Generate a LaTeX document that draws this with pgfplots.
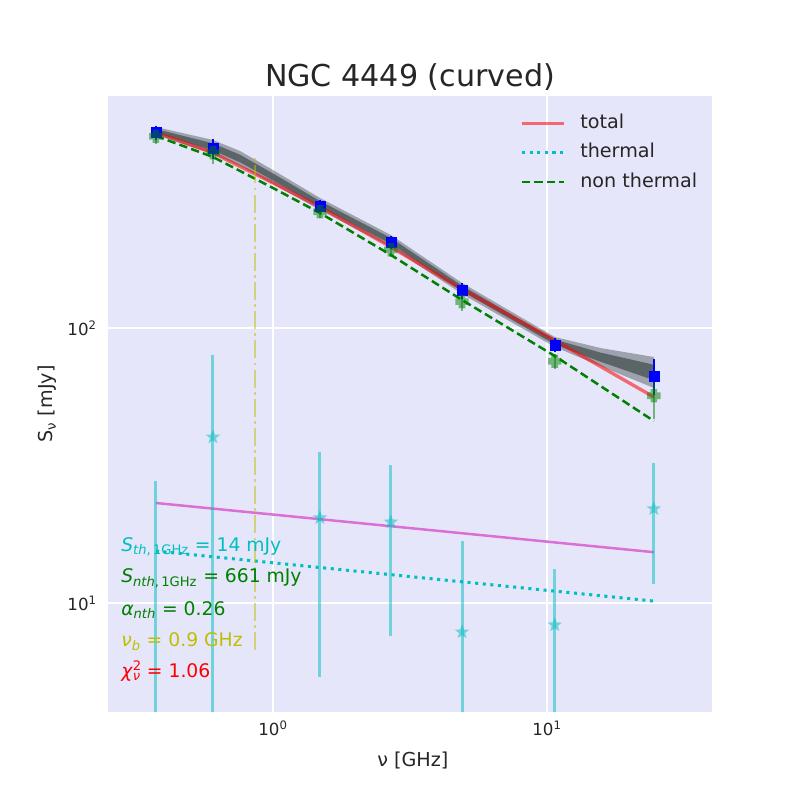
\documentclass[border=0pt]{standalone}
\usepackage{fontspec}
\setmainfont{DejaVu Sans}
\usepackage{pgfplots}
\usepackage{pgfplotstable}
\pgfplotsset{compat=1.18}
\definecolor{lav}{RGB}{230,230,250}
\definecolor{mplc}{RGB}{0,191,191}
\definecolor{mplg}{RGB}{0,128,0}
\definecolor{mply}{RGB}{191,191,0}
\definecolor{orch}{RGB}{218,112,214}
\definecolor{txt}{RGB}{38,38,38}
\definecolor{band}{RGB}{70,80,80}

\pgfdeclareplotmark{fstar}{%
  \pgfpathmoveto{\pgfpointpolar{90}{\pgfplotmarksize}}%
  \pgfpathlineto{\pgfpointpolar{126}{0.42\pgfplotmarksize}}%
  \pgfpathlineto{\pgfpointpolar{162}{\pgfplotmarksize}}%
  \pgfpathlineto{\pgfpointpolar{198}{0.42\pgfplotmarksize}}%
  \pgfpathlineto{\pgfpointpolar{234}{\pgfplotmarksize}}%
  \pgfpathlineto{\pgfpointpolar{270}{0.42\pgfplotmarksize}}%
  \pgfpathlineto{\pgfpointpolar{306}{\pgfplotmarksize}}%
  \pgfpathlineto{\pgfpointpolar{342}{0.42\pgfplotmarksize}}%
  \pgfpathlineto{\pgfpointpolar{18}{\pgfplotmarksize}}%
  \pgfpathlineto{\pgfpointpolar{54}{0.42\pgfplotmarksize}}%
  \pgfpathclose
  \pgfusepathqfill}
\pgfdeclareplotmark{fplus}{%
  \pgfpathmoveto{\pgfpoint{-0.5\pgfplotmarksize}{\pgfplotmarksize}}%
  \pgfpathlineto{\pgfpoint{0.5\pgfplotmarksize}{\pgfplotmarksize}}%
  \pgfpathlineto{\pgfpoint{0.5\pgfplotmarksize}{0.5\pgfplotmarksize}}%
  \pgfpathlineto{\pgfpoint{\pgfplotmarksize}{0.5\pgfplotmarksize}}%
  \pgfpathlineto{\pgfpoint{\pgfplotmarksize}{-0.5\pgfplotmarksize}}%
  \pgfpathlineto{\pgfpoint{0.5\pgfplotmarksize}{-0.5\pgfplotmarksize}}%
  \pgfpathlineto{\pgfpoint{0.5\pgfplotmarksize}{-\pgfplotmarksize}}%
  \pgfpathlineto{\pgfpoint{-0.5\pgfplotmarksize}{-\pgfplotmarksize}}%
  \pgfpathlineto{\pgfpoint{-0.5\pgfplotmarksize}{-0.5\pgfplotmarksize}}%
  \pgfpathlineto{\pgfpoint{-\pgfplotmarksize}{-0.5\pgfplotmarksize}}%
  \pgfpathlineto{\pgfpoint{-\pgfplotmarksize}{0.5\pgfplotmarksize}}%
  \pgfpathlineto{\pgfpoint{-0.5\pgfplotmarksize}{0.5\pgfplotmarksize}}%
  \pgfpathclose
  \pgfusepathqfill}

\pgfplotstableread{
x y e
0.374 513 30
0.604 449 38
1.484 278 13
2.694 205 11
4.898 136.6 9
10.68 86.7 5
24.55 66.9 10
}\dataobs

\pgfplotstableread{
x y e
0.374 497.6 30
0.604 434.3 38
1.484 264.5 13
2.694 192.3 11
4.898 124.7 9
10.68 75.65 5
24.55 56.7 10
}\datanth

\pgfplotstableread{
x y ep em
0.374 2.0 25.8 1.5
0.604 40.1 39.7 39.5
1.484 20.4 15.0 15.0
2.694 19.7 12.1 12.1
4.898 7.84 9.0 7.0
10.68 8.32 5.0 5.0
24.55 22.0 10.3 10.3
}\datath

\begin{document}
\begin{tikzpicture}
\path[use as bounding box, fill=white] (-77.76bp,-63.36bp) rectangle (498.24bp,512.64bp);
\begin{axis}[
  at={(0,0)}, anchor=south west,
  scale only axis, width=434.88bp, height=443.52bp,
  xmode=log, ymode=log,
  xmin=0.25, xmax=40.02, ymin=4.014, ymax=697.6,
  axis background/.style={fill=lav},
  axis line style={draw=none},
  major tick length=0pt, minor tick length=0pt,
  grid=major, major grid style={white, line width=0.8bp},
  xtick={1,10}, xticklabels={10\textsuperscript{0},10\textsuperscript{1}},
  ytick={10,100}, yticklabels={10\textsuperscript{1},10\textsuperscript{2}},
  xticklabel style={font=\fontsize{12bp}{14bp}\selectfont, text=txt, inner sep=0pt, yshift=-6.5bp},
  yticklabel style={font=\fontsize{12bp}{14bp}\selectfont, text=txt, inner sep=0pt, xshift=-7.9bp},
  legend style={draw=none, fill=none, at={(0.6821,1)}, anchor=north west, yshift=-15.5bp,
    inner sep=0pt, row sep=11.4bp, column sep=10.8bp,
    font=\fontsize{13.8bp}{16bp}\selectfont, text=txt,
    nodes={inner sep=0pt, text height=0.76em, text depth=0.22em},
    cells={anchor=base west}},
  legend image code/.code={\draw[#1] (0bp,0.36em) -- (30bp,0.36em);},
]
% MCMC sample band
\addplot[fill=band, fill opacity=0.45, draw=none, forget plot] coordinates {
(0.374,538.3) (0.604,482.6) (0.758,440.2) (1.0,375.4) (1.484,297.0) (2.694,217.8) (4.898,145.8) (10.68,92.75) (15.63,84.6) (24.55,78.45)
(24.55,60.5) (15.63,72.75) (10.68,85.3) (4.898,132.9) (2.694,197.0) (1.484,268.6) (1.0,333.9) (0.758,388.2) (0.604,429.2) (0.374,503.2)};
\addplot[fill=band, fill opacity=0.75, draw=none, forget plot] coordinates {
(0.374,529.3) (0.604,468.8) (0.758,426.6) (1.0,364.6) (1.484,289.6) (2.694,212.5) (4.898,142.5) (10.68,90.8) (15.63,81.45) (24.55,73.5)
(24.55,64.6) (15.63,75.5) (10.68,87.1) (4.898,136.0) (2.694,202.1) (1.484,275.4) (1.0,343.9) (0.758,400.6) (0.604,442.1) (0.374,511.9)};
% total
\addplot[red, opacity=0.55, line width=2.4bp] coordinates {
(0.374,514.7) (0.604,433.3) (1.0,336.9) (1.484,275.4) (2.694,197.0) (4.898,138.3) (10.68,90.2) (24.55,56.1)};
\addlegendentry{total}
% thermal
\addplot[mplc, line width=2.2bp, dash pattern=on 2.2bp off 3.3bp] coordinates {
(0.374,15.45) (24.55,10.16)};
\addlegendentry{thermal}
% non thermal
\addplot[mplg, line width=1.8bp, dash pattern=on 6bp off 3bp] coordinates {
(0.374,499.2) (0.604,418.6) (1.0,322.9) (1.484,261.9) (2.694,184.3) (4.898,126.4) (10.68,79.1) (24.55,45.9)};
\addlegendentry{non thermal}
% magenta line
\addplot[orch, line width=1.8bp, forget plot] coordinates {(0.374,23.1) (24.55,15.3)};
% break frequency
\addplot[mply, opacity=0.5, line width=1.8bp, dash pattern=on 13bp off 3bp on 2bp off 3bp, forget plot]
  coordinates {(0.86,6.74) (0.86,415)};
% observed data
\addplot[forget plot, only marks, mark=square*, mark size=3.6bp, blue,
  error bars/.cd, y dir=both, y explicit, error mark=none,
  error bar style={blue, line width=1.6bp}]
  table[x=x, y=y, y error=e] {\dataobs};
% non-thermal data
\addplot[forget plot, only marks, mark=fplus, mark size=4.8bp, mplg, opacity=0.5,
  error bars/.cd, y dir=both, y explicit, error mark=none,
  error bar style={mplg, opacity=0.5, line width=1.8bp}]
  table[x=x, y=y, y error=e] {\datanth};
% thermal data
\addplot[forget plot, only marks, mark=fstar, mark size=5.5bp, mplc, opacity=0.5,
  error bars/.cd, y dir=both, y explicit, error mark=none,
  error bar style={mplc, opacity=0.5, line width=2.2bp}]
  table[x=x, y=y, y error plus=ep, y error minus=em] {\datath};
\end{axis}
% title and labels
\node[anchor=base, font=\fontsize{21.7bp}{26bp}\selectfont, text=txt] at (217.44bp,450.0bp) {NGC 4449 (curved)};
\node[anchor=base, font=\fontsize{13.8bp}{16bp}\selectfont, text=txt] at (219.5bp,-38.9bp) {ν [GHz]};
\node[anchor=base, rotate=90, font=\fontsize{13.8bp}{16bp}\selectfont, text=txt] at (-39.6bp,221.76bp) {S\textsubscript{ν} [mJy]};
% annotations
\begin{scope}[every node/.style={anchor=base west, inner sep=0pt, font=\fontsize{13.5bp}{16bp}\selectfont}]
\node[text=mplc] at (9.36bp,115.9bp) {\textit{S}\textsubscript{\textit{th},\,1GHz} = 14 mJy};
\node[text=mplg] at (9.36bp,92.9bp) {\textit{S}\textsubscript{\textit{nth},\,1GHz} = 661 mJy};
\node[text=mplg] at (9.36bp,69.8bp) {\textit{α}\textsubscript{\textit{nth}} = 0.26};
\node[text=mply] at (9.36bp,46.8bp) {\textit{ν}\textsubscript{\textit{b}} = 0.9 GHz};
\node[text=red] at (9.36bp,24.5bp) {\textit{χ}\rlap{\textsuperscript{2}}\textsubscript{\textit{ν}} = 1.06};
\end{scope}
\end{tikzpicture}
\end{document}
